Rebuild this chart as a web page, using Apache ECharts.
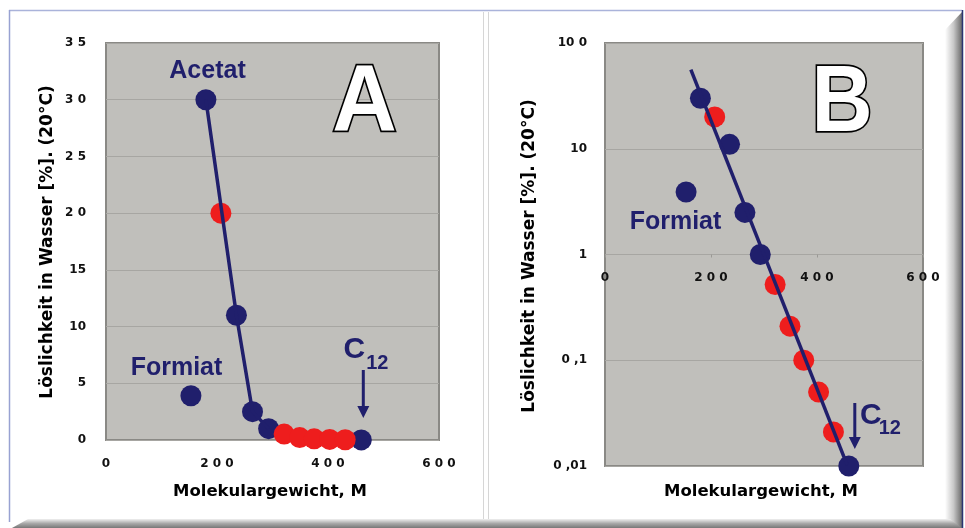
<!DOCTYPE html>
<html>
<head>
<meta charset="utf-8">
<script src="https://cdn.jsdelivr.net/npm/echarts@6/dist/echarts.min.js"></script>
<style>
  html, body { margin: 0; padding: 0; background: #ffffff; }
  #chart { width: 965px; height: 528px; }
</style>
</head>
<body>
<div id="chart"></div>
<script>
// Molecular weight M (x) against water solubility in % at 20 °C (y)
const bluePoints = [[153, 3.9], [180, 30], [235, 11], [264, 2.5], [293, 1.0], [460, 0.01]];
const redPoints = [[207, 20], [321, 0.52], [349, 0.21], [375, 0.10], [403, 0.05], [431, 0.021]];
// Curve drawn through the linear plot
const curveA = [[180, 30], [235, 11], [264, 2.5], [293, 1.0]];
// Straight fit line on the logarithmic plot
const fitB = [[162, 56], [457, 0.0102]];

// Tick labels
const xTickLabels = ['0', '2 0 0', '4 0 0', '6 0 0'];
const yTickLabelsA = ['0', '5', '10', '15', '2 0', '2 5', '3 0', '3 5'];
const yTickLabelsB = ['0 ,01', '0 ,1', '1', '10', '10 0'];

const NAVY = '#201f6c';
const RED = '#ee1d1d';
const PLOT_BG = '#c0bfbb';
const GRID_LINE = '#a7a6a2';
const TICK_FONT = { color: '#111', fontFamily: 'DejaVu Sans', fontWeight: 'bold', fontSize: 12 };

const chart = echarts.init(document.getElementById('chart'), null, { renderer: 'canvas' });

const gridA = { left: 106, top: 43, width: 333, height: 397 };
const gridB = { left: 605, top: 43, width: 318, height: 423 };

function xAxisFor(gridIndex, extra) {
  return Object.assign({
    type: 'value', gridIndex: gridIndex, min: 0, max: 600, interval: 200,
    axisLine: { show: false },
    axisTick: { show: false },
    splitLine: { show: false },
    axisLabel: Object.assign({}, TICK_FONT, {
      margin: 18,
      formatter: v => xTickLabels[Math.round(v / 200)]
    })
  }, extra || {});
}

const dot = color => ({ color: color, opacity: 1 });

const option = {
  backgroundColor: '#ffffff',
  animation: false,
  grid: [
    Object.assign({ show: true, backgroundColor: PLOT_BG, borderColor: '#8a8985', borderWidth: 2 }, gridA),
    Object.assign({ show: true, backgroundColor: PLOT_BG, borderColor: '#8a8985', borderWidth: 2 }, gridB)
  ],
  xAxis: [
    xAxisFor(0),
    // the x axis of the log plot crosses at a solubility of 1 %
    xAxisFor(1, {
      offset: -gridB.height / 2,
      axisTick: { show: true, inside: false, length: 3, lineStyle: { color: '#9a9995' } },
      axisLabel: Object.assign({}, TICK_FONT, {
        margin: 17,
        formatter: v => xTickLabels[Math.round(v / 200)]
      })
    })
  ],
  yAxis: [
    {
      type: 'value', gridIndex: 0, min: 0, max: 35, interval: 5,
      axisLine: { show: false }, axisTick: { show: false },
      splitLine: { lineStyle: { color: GRID_LINE, width: 1 } },
      axisLabel: Object.assign({}, TICK_FONT, {
        margin: 20,
        formatter: v => yTickLabelsA[Math.round(v / 5)]
      })
    },
    {
      type: 'log', logBase: 10, gridIndex: 1, min: 0.01, max: 100,
      axisLine: { show: false }, axisTick: { show: false },
      splitLine: { lineStyle: { color: GRID_LINE, width: 1 } },
      axisLabel: Object.assign({}, TICK_FONT, {
        margin: 18,
        formatter: v => yTickLabelsB[Math.round(Math.log10(v)) + 2]
      })
    }
  ],
  series: [
    { type: 'scatter', xAxisIndex: 0, yAxisIndex: 0, data: bluePoints, symbolSize: 21, itemStyle: dot(NAVY) },
    { type: 'scatter', xAxisIndex: 0, yAxisIndex: 0, data: redPoints, symbolSize: 21, itemStyle: dot(RED) },
    { type: 'line', xAxisIndex: 0, yAxisIndex: 0, data: curveA, showSymbol: false, symbol: 'none',
      lineStyle: { color: NAVY, width: 3.5 }, z: 5 },
    { type: 'scatter', xAxisIndex: 1, yAxisIndex: 1, data: bluePoints, symbolSize: 21, itemStyle: dot(NAVY) },
    { type: 'scatter', xAxisIndex: 1, yAxisIndex: 1, data: redPoints, symbolSize: 21, itemStyle: dot(RED) },
    { type: 'line', xAxisIndex: 1, yAxisIndex: 1, data: fitB, showSymbol: false, symbol: 'none',
      lineStyle: { color: NAVY, width: 3.5 }, z: 5 }
  ]
};

chart.setOption(option);

// Annotations and frame
const labelFont = { fill: NAVY, fontFamily: 'Liberation Sans', fontWeight: 'bold' };
const titleFont = { fill: '#000', fontFamily: 'DejaVu Sans', fontWeight: 'bold' };
const letterFont = { fill: '#ffffff', stroke: '#000', lineWidth: 3.5, fontFamily: 'Liberation Sans', fontWeight: 'bold', fontSize: 94 };
const yTitle = 'Löslichkeit in Wasser [%]. (20°C)';
const xTitle = 'Molekulargewicht, M';

function text(x, y, str, style, extra) {
  return Object.assign({
    type: 'text', x: x, y: y, z: 20,
    style: Object.assign({ text: str, x: 0, y: 0, align: 'center', verticalAlign: 'middle' }, style)
  }, extra || {});
}

function arrow(x, y1, y2) {
  return {
    type: 'group', z: 20,
    children: [
      { type: 'line', shape: { x1: x, y1: y1, x2: x, y2: y2 - 8 }, style: { stroke: NAVY, lineWidth: 3 } },
      { type: 'polygon', shape: { points: [[x - 6, y2 - 12], [x + 6, y2 - 12], [x, y2]] }, style: { fill: NAVY } }
    ]
  };
}

const pA = chart.convertToPixel({ xAxisIndex: 0, yAxisIndex: 0 }, bluePoints[5]);
const pB = chart.convertToPixel({ xAxisIndex: 1, yAxisIndex: 1 }, bluePoints[5]);

const graphics = [
  // frame lines and shadows
  { type: 'line', shape: { x1: 9, y1: 10.5, x2: 962, y2: 10.5 }, style: { stroke: '#aab3da', lineWidth: 1.5 } },
  { type: 'line', shape: { x1: 9.5, y1: 10, x2: 9.5, y2: 522 }, style: { stroke: '#98a2d2', lineWidth: 1.5 } },
  { type: 'line', shape: { x1: 483.5, y1: 12, x2: 483.5, y2: 528 }, style: { stroke: '#d6d6d6', lineWidth: 1 } },
  { type: 'line', shape: { x1: 488.5, y1: 12, x2: 488.5, y2: 528 }, style: { stroke: '#d6d6d6', lineWidth: 1 } },
  { type: 'polygon', shape: { points: [[945, 30], [962, 12], [962, 528], [945, 528]] },
    style: { fill: new echarts.graphic.LinearGradient(0, 0, 1, 0, [
      { offset: 0, color: '#ffffff' }, { offset: 0.5, color: '#c8c8c8' }, { offset: 1, color: '#6a6a6a' }]) } },
  { type: 'polygon', shape: { points: [[12, 528], [28, 519], [950, 519], [962, 528]] },
    style: { fill: new echarts.graphic.LinearGradient(0, 0, 0, 1, [
      { offset: 0, color: '#f0f0f0' }, { offset: 0.5, color: '#a8a8a8' }, { offset: 1, color: '#787878' }]) } },
  { type: 'line', shape: { x1: 962.5, y1: 10, x2: 962.5, y2: 528 }, style: { stroke: '#2b3472', lineWidth: 1.5 } },

  // panel letters
  text(364.5, 105, 'A', letterFont, { scaleX: 0.95 }),
  text(842, 105, 'B', letterFont, { scaleX: 0.9 }),

  // point labels
  text(207.5, 71, 'Acetat', Object.assign({ fontSize: 25 }, labelFont)),
  text(176.5, 368, 'Formiat', Object.assign({ fontSize: 25 }, labelFont)),
  text(675.5, 222, 'Formiat', Object.assign({ fontSize: 25 }, labelFont)),

  // C12 markers
  text(pA[0] - 7, 350, 'C', Object.assign({ fontSize: 30 }, labelFont)),
  text(pA[0] + 16, 363, '12', Object.assign({ fontSize: 20 }, labelFont)),
  arrow(pA[0] + 2, 370, pA[1] - 22),
  text(pB[0] + 22, 416, 'C', Object.assign({ fontSize: 30 }, labelFont)),
  text(pB[0] + 41, 428, '12', Object.assign({ fontSize: 20 }, labelFont)),
  arrow(pB[0] + 6, 403, pB[1] - 17),

  // axis titles
  text(270, 492, xTitle, Object.assign({ fontSize: 16.5 }, titleFont)),
  text(761, 492, xTitle, Object.assign({ fontSize: 16.5 }, titleFont)),
  text(48, 242, yTitle, Object.assign({ fontSize: 17 }, titleFont), { rotation: Math.PI / 2 }),
  text(530, 256, yTitle, Object.assign({ fontSize: 17 }, titleFont), { rotation: Math.PI / 2 })
];

chart.setOption({ graphic: graphics });
</script>
</body>
</html>
